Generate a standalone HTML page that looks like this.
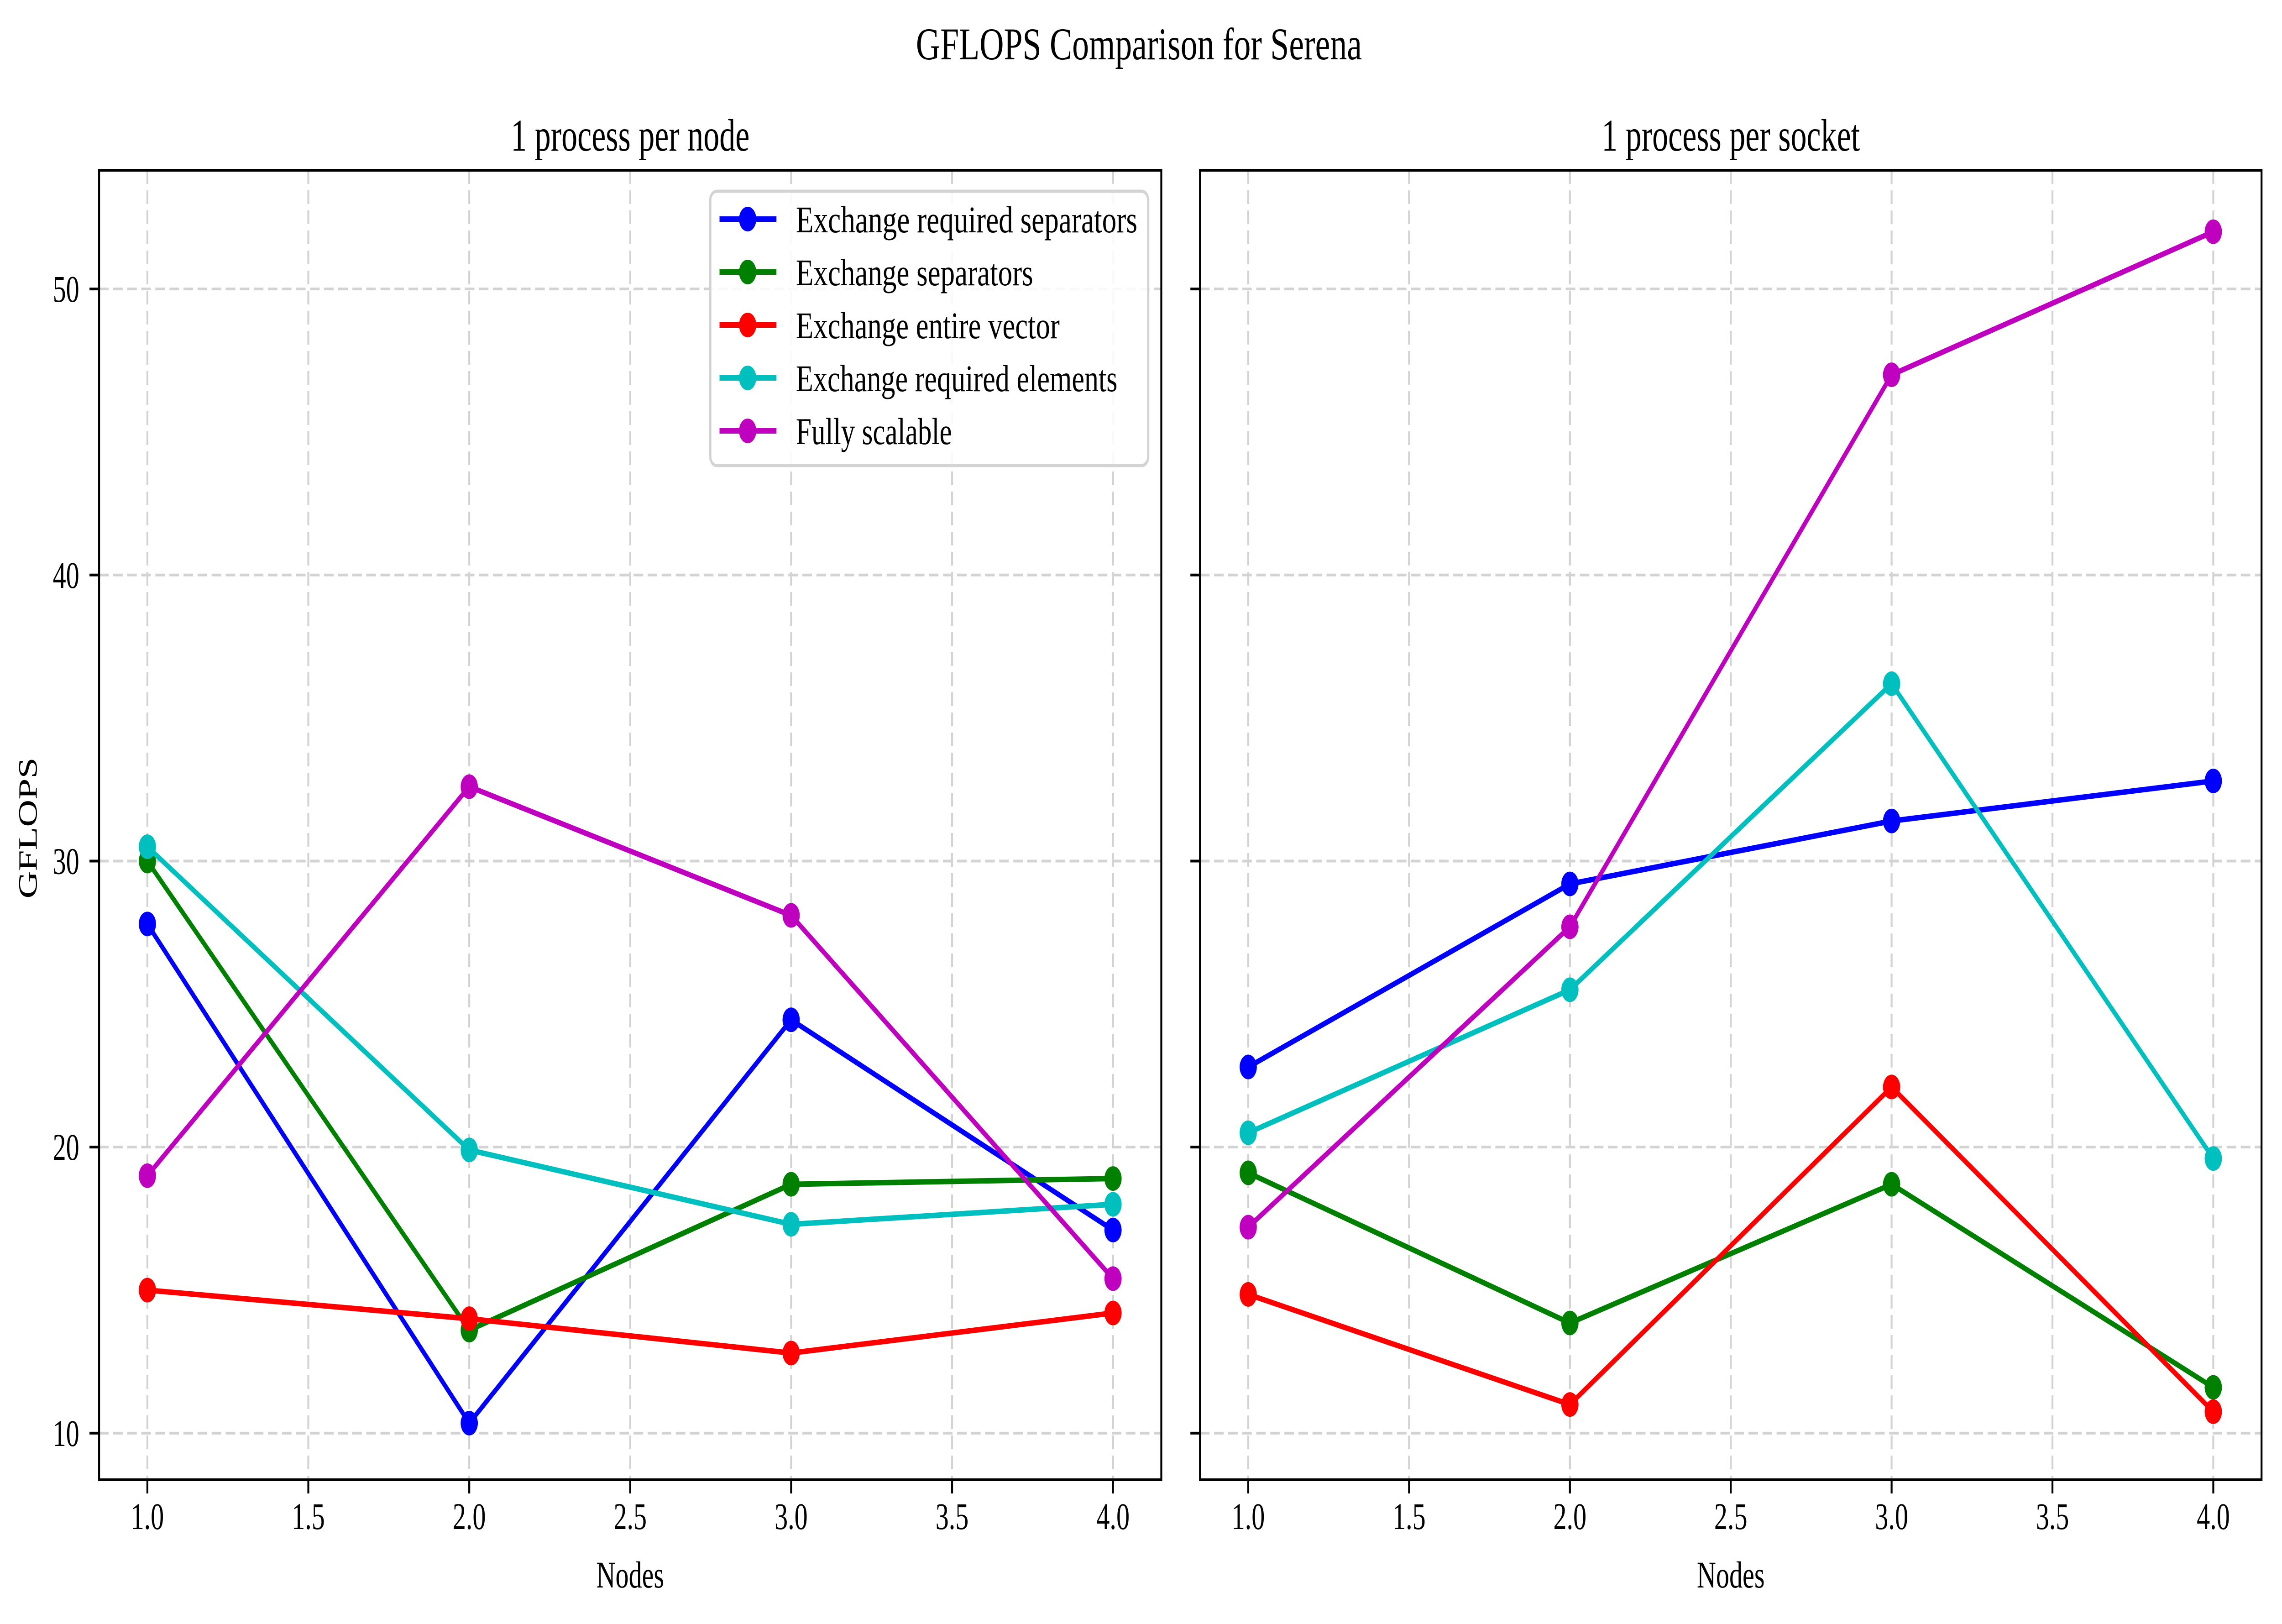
<!DOCTYPE html>
<html><head><meta charset="utf-8"><style>
html,body{margin:0;padding:0;background:#fff;overflow:hidden;width:100%;height:100%;}
svg{display:block;font-family:"Liberation Serif",serif;width:100vw;height:100vh;}
</style></head><body>
<svg id="chart" xmlns="http://www.w3.org/2000/svg" viewBox="0 0 7139 3558" preserveAspectRatio="none">
<rect width="7139" height="3558" fill="#fff"/>
<text x="3563" y="130" font-size="100" text-anchor="middle" textLength="1395" lengthAdjust="spacingAndGlyphs">GFLOPS Comparison for Serena</text>
<g id="panels"></g>
</svg>
<script>
const nodes = [1, 2, 3, 4];
const seriesNames = ["Exchange required separators","Exchange separators","Exchange entire vector","Exchange required elements","Fully scalable"];
const seriesColors = ["#0000ff","#008000","#ff0000","#00bfbf","#bf00bf"];
const nodeBlue = [27.8, 10.35, 24.45, 17.1];
const nodeGreen = [30.0, 13.6, 18.7, 18.9];
const nodeRed = [15.0, 14.0, 12.8, 14.2];
const nodeCyan = [30.5, 19.9, 17.3, 18.0];
const nodeMagenta = [19.0, 32.6, 28.1, 15.4];
const sockBlue = [22.8, 29.2, 31.4, 32.8];
const sockGreen = [19.1, 13.85, 18.7, 11.6];
const sockRed = [14.85, 11.0, 22.1, 10.75];
const sockCyan = [20.5, 25.5, 36.2, 19.6];
const sockMagenta = [17.2, 27.7, 47.0, 52.0];
const xTicks = [1.0, 1.5, 2.0, 2.5, 3.0, 3.5, 4.0];
const xTickLabels = ["1.0","1.5","2.0","2.5","3.0","3.5","4.0"];
const yTicks = [10, 20, 30, 40, 50];
const yTickLabels = ["10","20","30","40","50"];
const panelTitles = ["1 process per node","1 process per socket"];
const legendWidths = [1068, 742, 825, 1006, 488];

const NS = "http://www.w3.org/2000/svg";
const root = document.getElementById("panels");
function mk(tag, attrs, parent){
  const e = document.createElementNS(NS, tag);
  for (const k in attrs) e.setAttribute(k, attrs[k]);
  (parent||root).appendChild(e);
  return e;
}
const X0 = 0.85, X1 = 4.15, Y0 = 8.37, Y1 = 54.15;
const TOP = 373, BOT = 3242;
const panels = [
  {left:310, right:3633, data:[nodeBlue,nodeGreen,nodeRed,nodeCyan,nodeMagenta], labels:true, legend:true, name:"per-node"},
  {left:3754, right:7075, data:[sockBlue,sockGreen,sockRed,sockCyan,sockMagenta], labels:false, legend:false, name:"per-socket"}
];
panels.forEach((p, pi) => {
  const g = mk("g", {});
  
  
  const xs = v => p.left + (v - X0) / (X1 - X0) * (p.right - p.left);
  const ys = v => BOT - (v - Y0) / (Y1 - Y0) * (BOT - TOP);
  xTicks.forEach((t, i) => {
    const l = mk("line", {x1:xs(t), x2:xs(t), y1:TOP, y2:BOT, stroke:"#d3d3d3", "stroke-width":6, "stroke-dasharray":"30,14"}, g);
    
    
    const tk = mk("line", {x1:xs(t), x2:xs(t), y1:BOT, y2:BOT+30, stroke:"#000", "stroke-width":6}, g);
    
    
    const tx = mk("text", {x:xs(t), y:3350, "font-size":83, "text-anchor":"middle"}, g);
    tx.textContent = xTickLabels[i];
    
    
  });
  yTicks.forEach((t, i) => {
    const l = mk("line", {x1:p.left, x2:p.right, y1:ys(t), y2:ys(t), stroke:"#d3d3d3", "stroke-width":6, "stroke-dasharray":"30,14"}, g);
    
    
    const tk = mk("line", {x1:p.left-30, x2:p.left, y1:ys(t), y2:ys(t), stroke:"#000", "stroke-width":6}, g);
    
    
    if (p.labels) {
      const tx = mk("text", {x:248, y:ys(t)+28, "font-size":83, "text-anchor":"end"}, g);
      tx.textContent = yTickLabels[i];
      
      
    }
  });
  p.data.forEach((vals, si) => {
    const sg = mk("g", {}, g);
    
    
    const pts = vals.map((v, i) => xs(nodes[i]) + "," + ys(v)).join(" ");
    const pl = mk("polyline", {points:pts, fill:"none", stroke:seriesColors[si], "stroke-width":12, "stroke-linejoin":"round"}, sg);
    
    
    vals.forEach((v, i) => {
      const c = mk("circle", {cx:xs(nodes[i]), cy:ys(v), r:27, fill:seriesColors[si]}, sg);
      
      
    });
  });
  const fr = mk("rect", {x:p.left, y:TOP, width:p.right-p.left, height:BOT-TOP, fill:"none", stroke:"#000", "stroke-width":6}, g);
  
  
  const ti = mk("text", {x:(p.left+p.right)/2, y:330, "font-size":100, "text-anchor":"middle"}, g);
  ti.textContent = panelTitles[pi];
  
  
  const xl = mk("text", {x:(p.left+p.right)/2, y:3478, "font-size":83, "text-anchor":"middle"}, g);
  xl.textContent = "Nodes";
  
  
  if (p.labels) {
    const yl = mk("text", {x:0, y:0, "font-size":83, "text-anchor":"middle", transform:"translate(115,1814) rotate(-90)"}, g);
    yl.textContent = "GFLOPS";
    
    
  }
  if (p.legend) {
    const lg = mk("g", {}, g);
    
    
    const bx = mk("rect", {x:2222, y:419, width:1370, height:601, rx:20, fill:"#fff", "fill-opacity":0.85, stroke:"#d3d3d3", "stroke-width":7}, lg);
    
    
    seriesNames.forEach((nm, si) => {
      const yy = 480 + si * 116;
      const eg = mk("g", {}, lg);
      
      
      mk("line", {x1:2251, x2:2429, y1:yy, y2:yy, stroke:seriesColors[si], "stroke-width":12}, eg);
      mk("circle", {cx:2339, cy:yy, r:27, fill:seriesColors[si]}, eg);
      const t = mk("text", {x:2490, y:yy+29, "font-size":83, textLength:legendWidths[si], lengthAdjust:"spacingAndGlyphs"}, eg);
      t.textContent = nm;
      
      
    });
  }
});
</script>
</body></html>
